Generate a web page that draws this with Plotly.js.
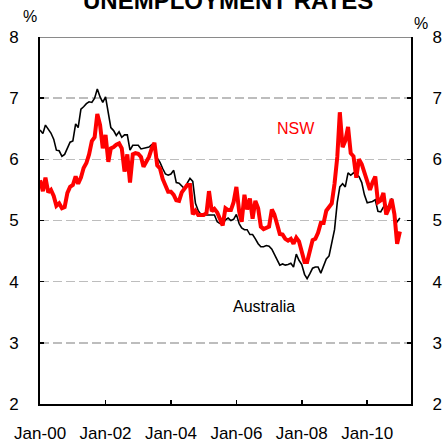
<!DOCTYPE html>
<html>
<head>
<meta charset="utf-8">
<script src="https://cdn.plot.ly/plotly-3.0.1.min.js"></script>
<style>html,body{margin:0;padding:0;background:#fff;}#chart{width:448px;height:443px;}</style>
</head>
<body>
<div id="chart"></div>
<script>
// Monthly series, Jan-2000 to Jan-2011
const startMonth = "2000-01";
const australia = [
6.48,6.42,6.56,6.50,6.43,6.33,6.15,6.14,6.05,6.08,6.18,6.28,
6.30,6.58,6.52,6.82,6.86,6.91,6.94,6.93,7.00,7.15,7.02,6.93,
7.02,6.72,6.52,6.47,6.39,6.45,6.36,6.40,6.40,6.15,6.23,6.23,
6.23,6.17,6.18,6.20,6.20,6.24,6.23,6.02,5.95,5.85,5.76,5.74,
5.76,5.82,5.62,5.61,5.56,5.52,5.61,5.69,5.64,5.28,5.16,5.10,
5.09,5.09,5.09,5.09,5.09,4.98,4.95,4.94,5.01,5.04,5.00,5.02,
5.10,4.95,4.88,4.85,4.85,4.77,4.77,4.70,4.62,4.57,4.57,4.59,
4.58,4.53,4.44,4.35,4.27,4.29,4.27,4.28,4.30,4.24,4.45,4.35,
4.28,4.12,4.05,4.13,4.22,4.24,4.24,4.14,4.25,4.37,4.42,4.61,
4.85,5.30,5.55,5.60,5.55,5.78,5.74,5.78,5.75,5.72,5.62,5.42,
5.29,5.30,5.31,5.34,5.15,5.14,5.22,5.25,5.16,5.36,5.05,4.98,
5.04];
const nsw = [
5.66,5.48,5.70,5.46,5.50,5.40,5.24,5.28,5.20,5.22,5.45,5.55,
5.58,5.72,5.60,5.70,5.86,5.94,6.08,6.30,6.36,6.74,6.56,6.18,
6.40,5.96,6.18,6.20,6.24,6.26,6.18,5.80,6.08,5.62,6.08,6.10,
6.09,6.04,5.88,5.97,6.04,6.18,6.27,5.90,5.85,5.68,5.58,5.47,
5.47,5.42,5.33,5.32,5.46,5.52,5.58,5.58,5.10,5.16,5.09,5.09,
5.09,5.12,5.48,5.15,5.19,5.13,5.02,4.92,5.20,5.17,5.17,5.30,
5.55,5.15,4.98,5.42,5.18,5.36,5.03,5.32,5.20,4.90,4.86,4.88,
4.90,5.18,5.10,4.94,4.78,4.77,4.70,4.67,4.70,4.62,4.72,4.66,
4.50,4.32,4.32,4.52,4.68,4.70,4.80,4.96,4.96,5.16,5.22,5.28,
5.60,6.04,6.77,6.20,6.30,6.53,6.10,6.05,5.70,6.00,5.92,5.78,
5.66,5.50,5.62,5.72,5.30,5.33,5.45,5.10,5.20,5.35,5.10,4.62,
4.82];
const seriesNames = ["NSW", "Australia"];
const yTicks = [2,3,4,5,6,7,8];
const titleText = "UNEMPLOYMENT RATES";

function monthDates(start, n) {
  const [y0, m0] = start.split("-").map(Number);
  const out = [];
  for (let i = 0; i < n; i++) {
    const t = (m0 - 1) + i;
    const y = y0 + Math.floor(t / 12);
    const m = (t % 12) + 1;
    out.push(y + "-" + String(m).padStart(2, "0") + "-01");
  }
  return out;
}
const dates = monthDates(startMonth, australia.length);

const FONT = "Liberation Sans, Arial, sans-serif";

const traces = [
  {x: dates, y: nsw, name: seriesNames[0], type: "scatter", mode: "lines",
   line: {color: "#ff0000", width: 4}, yaxis: "y2"},
  {x: dates, y: australia, name: seriesNames[1], type: "scatter", mode: "lines",
   line: {color: "#000000", width: 1.6}, yaxis: "y"}
];

const yCommon = {
  range: [2, 8], tickvals: yTicks, ticks: "inside", ticklen: 4, tickwidth: 1.5,
  tickcolor: "#000", showline: true, linecolor: "#000", linewidth: 2,
  tickfont: {family: FONT, size: 17, color: "#000"}, zeroline: false,
  ticklabelstandoff: 16, fixedrange: true
};

const layout = {
  width: 448, height: 443,
  margin: {l: 40, r: 37, t: 37, b: 39, pad: 0},
  paper_bgcolor: "#fff", plot_bgcolor: "#fff",
  showlegend: false,
  font: {family: FONT, color: "#000"},
  xaxis: {
    type: "date", range: ["1999-12-31", "2011-05-05"],
    tick0: "2000-01-01", dtick: "M24", tickformat: "%b-%y",
    ticks: "inside", ticklen: 4, tickwidth: 1.5, tickcolor: "#000",
    showline: true, linecolor: "#000", linewidth: 2, mirror: false,
    showgrid: false, zeroline: false,
    tickfont: {family: FONT, size: 17, color: "#000"},
    ticklabelstandoff: 13
  },
  yaxis: Object.assign({}, yCommon, {
    side: "left", showgrid: true, gridcolor: "#bdbdbd", gridwidth: 1.5,
    griddash: "9px,4px"
  }),
  yaxis2: Object.assign({}, yCommon, {
    side: "right", overlaying: "y", showgrid: false
  }),
  shapes: [
    {type: "line", xref: "paper", yref: "y", x0: 0, x1: 1, y0: 8, y1: 8,
     line: {color: "#8a8a8a", width: 2}}
  ],
  annotations: [
    {text: "<b>" + titleText + "</b>", xref: "paper", yref: "paper",
     x: 0.508, y: 1.057, xanchor: "center", yanchor: "bottom", showarrow: false,
     font: {family: FONT, size: 24, color: "#000"}},
    {text: "%", xref: "paper", yref: "paper", x: -0.027, y: 1.055,
     xanchor: "center", yanchor: "middle", showarrow: false,
     font: {family: FONT, size: 16, color: "#000"}},
    {text: "%", xref: "paper", yref: "paper", x: 1.027, y: 1.037,
     xanchor: "center", yanchor: "middle", showarrow: false,
     font: {family: FONT, size: 16, color: "#000"}},
    {text: seriesNames[0], xref: "x", yref: "y", x: "2007-11-01", y: 6.5,
     xanchor: "center", yanchor: "middle", showarrow: false,
     font: {family: FONT, size: 16, color: "#ff0000"}},
    {text: seriesNames[1], xref: "x", yref: "y", x: "2006-11-01", y: 3.6,
     xanchor: "center", yanchor: "middle", showarrow: false,
     font: {family: FONT, size: 16, color: "#000"}}
  ]
};

Plotly.newPlot("chart", traces, layout, {staticPlot: true, displayModeBar: false});
</script>
</body>
</html>
